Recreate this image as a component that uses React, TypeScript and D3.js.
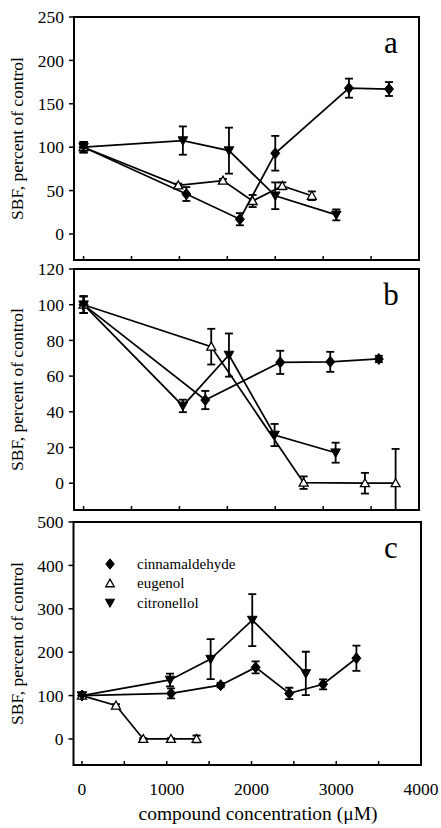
import React from "react";
import * as d3 from "d3";

// ---------- DATA ----------
// Panel a
const aCinnX = [0, 1072, 1631, 2000, 2769, 3187];
const aCinnY = [100, 46, 17, 93, 168, 167];
const aCinnE = [6, 8, 7, 20, 11, 8];
const aEugX = [0, 988, 1454, 1764, 2073, 2382];
const aEugY = [100, 56, 61.5, 38, 55.4, 44];
const aEugE = [6, 2, 2, 7, 4, 5];
const aCitX = [0, 1036, 1517, 2000, 2637];
const aCitY = [100, 107.6, 96, 44, 22];
const aCitE = [6, 16.3, 26.5, 15.4, 6.3];
// Panel b
const bCinnX = [0, 1270, 2052, 2574, 3081];
const bCinnY = [100, 46.6, 67.7, 68, 69.6];
const bCinnE = [4.7, 5.1, 6.5, 5.6, 1.8];
const bEugX = [0, 1332, 2296, 2936, 3256];
const bEugY = [100, 76.5, 0.3, 0, 0];
const bEugE = [4.7, 10, 3.5, 5.8, 19.2];
const bCitX = [0, 1036, 1517, 1993, 2630];
const bCitY = [100, 43.3, 71.8, 27, 17.1];
const bCitE = [4.7, 3.5, 12.1, 6.2, 5.6];
// Panel c
const cCinnX = [0, 1051, 1636, 2049, 2445, 2845, 3238];
const cCinnY = [100, 105, 124, 165, 105, 126, 186];
const cCinnE = [5, 11.5, 5, 14, 13, 11.5, 29];
const cEugX = [0, 401, 723, 1050, 1352];
const cEugY = [100, 77, 0, 0, 0];
const cEugE = [5, 3, 2, 2, 8];
const cCitX = [0, 1039, 1518, 2009, 2641];
const cCitY = [100, 136, 184, 274, 151];
const cCitE = [5, 14.6, 46, 60, 50];

const abXTicks = [0, 500, 1000, 1500, 2000, 2500, 3000];
const cXTicks = [0, 500, 1000, 1500, 2000, 2500, 3000, 3500, 4000];
const cXLabels = [0, 1000, 2000, 3000, 4000];
const aYTicks = [0, 50, 100, 150, 200, 250];
const bYTicks = [0, 20, 40, 60, 80, 100, 120];
const cYTicks = [0, 100, 200, 300, 400, 500];

const legendNames = ["cinnamaldehyde", "eugenol", "citronellol"];

type Series = { x: number[]; y: number[]; e: number[]; kind: "diamond" | "up" | "down" };

const FONT = "Liberation Serif";

function marker(kind: string, x: number, y: number, key: string, scale = 1) {
  if (kind === "diamond") {
    const p = `M0,${-5.5 * scale}L${4.5 * scale},0L0,${5.5 * scale}L${-4.5 * scale},0Z`;
    return <path key={key} d={p} transform={`translate(${x},${y})`} fill="#000" stroke="#000" strokeWidth={1} />;
  }
  if (kind === "up") {
    const p = `M0,${-4.5 * scale}L${4.5 * scale},${3.5 * scale}L${-4.5 * scale},${3.5 * scale}Z`;
    return <path key={key} d={p} transform={`translate(${x},${y})`} fill="#fff" stroke="#000" strokeWidth={1.3} />;
  }
  const p = `M${-4.8 * scale},${-3.8 * scale}L${4.8 * scale},${-3.8 * scale}L0,${4.8 * scale}Z`;
  return <path key={key} d={p} transform={`translate(${x},${y})`} fill="#000" stroke="#000" strokeWidth={1} />;
}

function Panel(props: {
  id: string;
  left: number;
  right: number;
  top: number;
  bottom: number;
  xDomain: [number, number];
  yDomain: [number, number];
  xTicks: number[];
  yTicks: number[];
  series: Series[];
  letter: string;
  xLabels?: number[];
}) {
  const { id, left, right, top, bottom, xDomain, yDomain, xTicks, yTicks, series, letter, xLabels } = props;
  const xs = d3.scaleLinear().domain(xDomain).range([left, right]);
  const ys = d3.scaleLinear().domain(yDomain).range([bottom, top]);
  const line = d3
    .line<[number, number]>()
    .x((d) => xs(d[0]))
    .y((d) => ys(d[1]));
  const cap = 4;
  return (
    <g>
      <defs>
        <clipPath id={`clip-${id}`}>
          <rect x={left} y={top} width={right - left} height={bottom - top} />
        </clipPath>
      </defs>
      <g clipPath={`url(#clip-${id})`}>
        {series.map((s, si) => (
          <path
            key={`l${si}`}
            d={line(s.x.map((x, i) => [x, s.y[i]] as [number, number])) || ""}
            fill="none"
            stroke="#000"
            strokeWidth={1.7}
          />
        ))}
        {series.map((s, si) =>
          s.x.map((x, i) => {
            const px = xs(x);
            const y1 = ys(s.y[i] + s.e[i]);
            const y2 = ys(s.y[i] - s.e[i]);
            return (
              <g key={`e${si}-${i}`} stroke="#000" strokeWidth={1.8}>
                <line x1={px} x2={px} y1={y1} y2={y2} />
                <line x1={px - cap} x2={px + cap} y1={y1} y2={y1} />
                <line x1={px - cap} x2={px + cap} y1={y2} y2={y2} />
              </g>
            );
          })
        )}
        {series.map((s, si) => s.x.map((x, i) => marker(s.kind, xs(x), ys(s.y[i]), `m${si}-${i}`)))}
      </g>
      <rect x={left} y={top} width={right - left} height={bottom - top} fill="none" stroke="#000" strokeWidth={2} />
      {xTicks.map((t) => (
        <line key={`xt${t}`} x1={xs(t)} x2={xs(t)} y1={bottom} y2={bottom - 4} stroke="#000" strokeWidth={1.5} />
      ))}
      {yTicks.map((t) => (
        <g key={`yt${t}`}>
          <line x1={left - 5} x2={left} y1={ys(t)} y2={ys(t)} stroke="#000" strokeWidth={1.5} />
          <text x={left - 10} y={ys(t)} dy="0.35em" textAnchor="end" fontSize={17.5} fontFamily={FONT} fill="#000">
            {t}
          </text>
        </g>
      ))}
      {xLabels &&
        xLabels.map((t) => (
          <text key={`xl${t}`} x={xs(t)} y={bottom + 30} textAnchor="middle" fontSize={17.5} fontFamily={FONT} fill="#000">
            {t}
          </text>
        ))}
      <text x={391} y={top + 36} textAnchor="middle" fontSize={31} fontFamily={FONT} fill="#000">
        {letter}
      </text>
      <text
        transform={`translate(23,${(top + bottom) / 2}) rotate(-90)`}
        textAnchor="middle"
        fontSize={17.5}
        fontFamily={FONT}
        fill="#000"
      >
        SBF, percent of control
      </text>
    </g>
  );
}

export default function App() {
  const seriesA: Series[] = [
    { x: aCinnX, y: aCinnY, e: aCinnE, kind: "diamond" },
    { x: aEugX, y: aEugY, e: aEugE, kind: "up" },
    { x: aCitX, y: aCitY, e: aCitE, kind: "down" },
  ];
  const seriesB: Series[] = [
    { x: bCinnX, y: bCinnY, e: bCinnE, kind: "diamond" },
    { x: bEugX, y: bEugY, e: bEugE, kind: "up" },
    { x: bCitX, y: bCitY, e: bCitE, kind: "down" },
  ];
  const seriesC: Series[] = [
    { x: cCinnX, y: cCinnY, e: cCinnE, kind: "diamond" },
    { x: cEugX, y: cEugY, e: cEugE, kind: "up" },
    { x: cCitX, y: cCitY, e: cCitE, kind: "down" },
  ];
  const legendKinds = ["diamond", "up", "down"];
  return (
    <svg
      width={441}
      height={828}
      style={{ position: "absolute", left: 0, top: 0, background: "#fff" }}
    >
      <rect x={0} y={0} width={441} height={828} fill="#fff" />
      <Panel
        id="a"
        left={74}
        right={419}
        top={17}
        bottom={260}
        xDomain={[-100, 3500]}
        yDomain={[-30, 250]}
        xTicks={abXTicks}
        yTicks={aYTicks}
        series={seriesA}
        letter="a"
      />
      <Panel
        id="b"
        left={74}
        right={419}
        top={269}
        bottom={510}
        xDomain={[-100, 3500]}
        yDomain={[-15, 120]}
        xTicks={abXTicks}
        yTicks={bYTicks}
        series={seriesB}
        letter="b"
      />
      <Panel
        id="c"
        left={73.5}
        right={421}
        top={522}
        bottom={765}
        xDomain={[-100, 4000]}
        yDomain={[-60, 500]}
        xTicks={cXTicks}
        yTicks={cYTicks}
        series={seriesC}
        letter="c"
        xLabels={cXLabels}
      />
      {legendNames.map((n, i) => (
        <g key={n}>
          {marker(legendKinds[i], 110, 564 + i * 19.4, `lg${i}`, 0.95)}
          <text x={137} y={564 + i * 19.4} dy="0.32em" fontSize={15} fontFamily={FONT} fill="#000">
            {n}
          </text>
        </g>
      ))}
      <text x={258} y={820} textAnchor="middle" fontSize={19.5} fontFamily={FONT} fill="#000">
        compound concentration (μM)
      </text>
    </svg>
  );
}
